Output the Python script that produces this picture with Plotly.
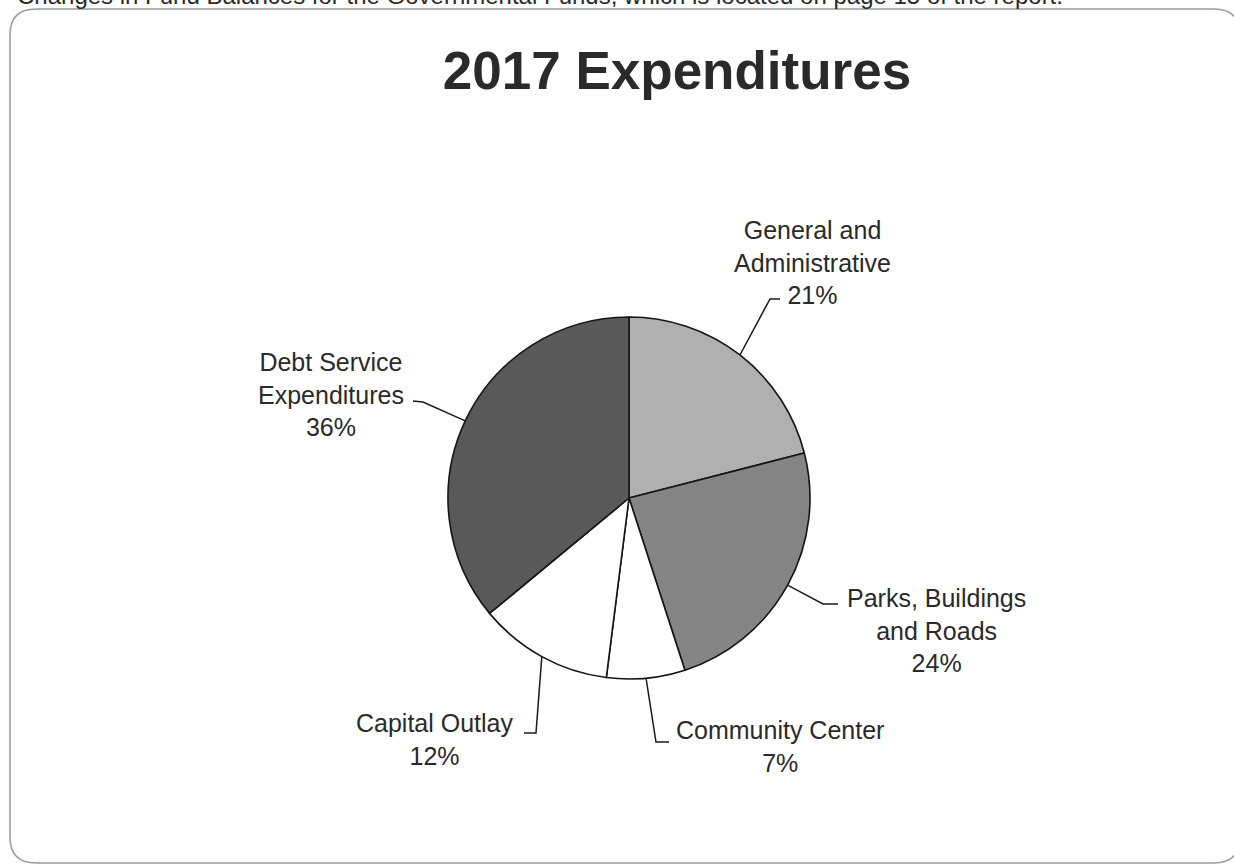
import math
import plotly.graph_objects as go

W, H = 1234, 868

categories = [
    "General and Administrative",
    "Parks, Buildings and Roads",
    "Community Center",
    "Capital Outlay",
    "Debt Service Expenditures",
]
shares = [21, 24, 7, 12, 36]
label_lines = [
    "General and<br>Administrative",
    "Parks, Buildings<br>and Roads",
    "Community Center",
    "Capital Outlay",
    "Debt Service<br>Expenditures",
]
slice_colors = ["#b0b0b0", "#848484", "#ffffff", "#ffffff", "#595959"]

TITLE = "2017 Expenditures"
HEADER = "Changes in Fund Balances for the Governmental Funds, which is located on page 15 of the report."

FONT = "Liberation Sans, Arial, sans-serif"
TEXT_COLOR = "#2a2a2a"

# pie geometry (pixels)
CX, CY, R = 629, 498, 181

# label block centre, leader elbow, leader end (pixels)
label_pos = {
    "General and Administrative": ((812, 262), (770, 299), (780, 299)),
    "Parks, Buildings and Roads": ((936, 630), (823, 604), (838, 604)),
    "Community Center": ((780, 746), (656, 742), (669, 742)),
    "Capital Outlay": ((435, 739), (536, 733), (524, 733)),
    "Debt Service Expenditures": ((331, 394), (423, 402), (413, 401)),
}


def to_paper(x, y):
    return x / W, 1 - y / H


fig = go.Figure(
    go.Pie(
        labels=categories,
        values=shares,
        sort=False,
        direction="clockwise",
        rotation=0,
        textinfo="none",
        hoverinfo="label+percent",
        marker=dict(colors=slice_colors, line=dict(color="#151515", width=1.6)),
        domain=dict(
            x=[(CX - R) / W, (CX + R) / W],
            y=[1 - (CY + R) / H, 1 - (CY - R) / H],
        ),
        showlegend=False,
    )
)

total = sum(shares)
cum = 0
annotations = []
shapes = []
for name, text, v in zip(categories, label_lines, shares):
    ang = (cum + v / 2) / total * 2 * math.pi
    cum += v
    rim = (CX + R * math.sin(ang), CY - R * math.cos(ang))
    (lx, ly), elbow, end = label_pos[name]
    pct = round(v / total * 100)
    ax, ay = to_paper(lx, ly)
    annotations.append(dict(
        x=ax, y=ay, xref="paper", yref="paper", xanchor="center", yanchor="middle",
        text=f"{text}<br>{pct}%", showarrow=False, align="center",
        font=dict(family=FONT, size=25, color=TEXT_COLOR),
    ))
    pts = [to_paper(*rim), to_paper(*elbow), to_paper(*end)]
    path = "M " + " L ".join(f"{px},{py}" for px, py in pts)
    shapes.append(dict(type="path", xref="paper", yref="paper", path=path,
                       line=dict(color="#1a1a1a", width=1.5)))

# rounded frame, right side runs off the page like the scan
x0, y0, x1, y1, rr = 10, 9, 1240, 863, 26
corner = [
    (x0 + rr, y0), (x1 - rr, y0), (x1, y0), (x1, y0 + rr), (x1, y1 - rr), (x1, y1),
    (x1 - rr, y1), (x0 + rr, y1), (x0, y1), (x0, y1 - rr), (x0, y0 + rr), (x0, y0),
]
p = [to_paper(*c) for c in corner]
frame = (
    f"M {p[0][0]},{p[0][1]} L {p[1][0]},{p[1][1]} Q {p[2][0]},{p[2][1]} {p[3][0]},{p[3][1]} "
    f"L {p[4][0]},{p[4][1]} Q {p[5][0]},{p[5][1]} {p[6][0]},{p[6][1]} "
    f"L {p[7][0]},{p[7][1]} Q {p[8][0]},{p[8][1]} {p[9][0]},{p[9][1]} "
    f"L {p[10][0]},{p[10][1]} Q {p[11][0]},{p[11][1]} {p[0][0]},{p[0][1]} Z"
)
shapes.append(dict(type="path", xref="paper", yref="paper", path=frame,
                   line=dict(color="#9a9a9a", width=1.5), layer="below"))

# page text above the frame, cut off at the top edge as in the scan
annotations.append(dict(
    x=15 / W, y=1 + 4 / H, xref="paper", yref="paper", xanchor="left", yanchor="middle",
    text=HEADER, showarrow=False, font=dict(family=FONT, size=24, color=TEXT_COLOR),
))

fig.update_layout(
    width=W,
    height=H,
    margin=dict(l=0, r=0, t=0, b=0),
    plot_bgcolor="white",
    paper_bgcolor="white",
    title=dict(
        text=f"<b>{TITLE}</b>",
        x=677 / W, xanchor="center", y=1 - 70 / H, yanchor="middle",
        font=dict(family=FONT, size=53, color=TEXT_COLOR),
    ),
    annotations=annotations,
    shapes=shapes,
)

fig.write_html(
    "out.html",
    config={"displayModeBar": False},
    post_script="document.body.style.margin='0';",
)
